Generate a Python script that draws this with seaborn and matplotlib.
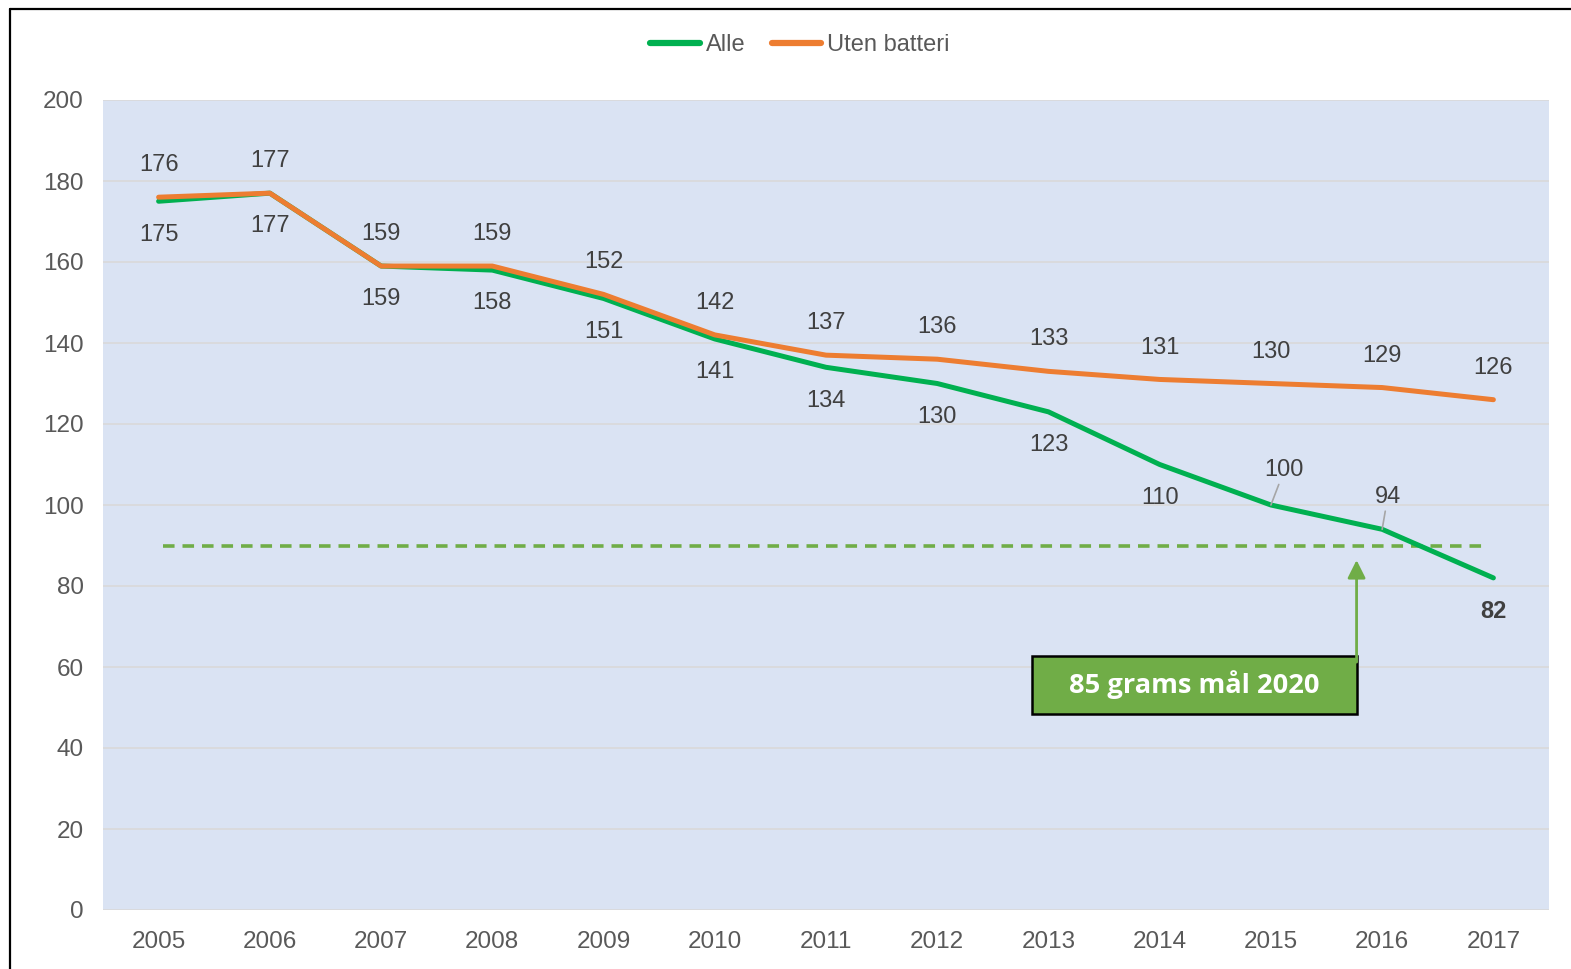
import matplotlib
matplotlib.use("Agg")
import matplotlib.pyplot as plt
import seaborn as sns
import pandas as pd
from matplotlib.lines import Line2D
from matplotlib.patches import Rectangle

years = ["2005", "2006", "2007", "2008", "2009", "2010", "2011", "2012",
         "2013", "2014", "2015", "2016", "2017"]
alle = [175, 177, 159, 158, 151, 141, 134, 130, 123, 110, 100, 94, 82]
uten = [176, 177, 159, 159, 152, 142, 137, 136, 133, 131, 130, 129, 126]
target = 90
series_names = ["Alle", "Uten batteri"]
goal_text = "85 grams mål 2020"
y_ticks = [0, 20, 40, 60, 80, 100, 120, 140, 160, 180, 200]

GREEN = "#00B050"
ORANGE = "#ED7D31"
DASH = "#70AD47"
BG = "#DAE3F3"
TXT = "#404040"
TICK = "#595959"

sns.set_theme(style="white")
plt.rcParams["font.family"] = ["Liberation Sans", "DejaVu Sans"]

df = pd.DataFrame({
    "year": years * 2,
    "value": alle + uten,
    "series": [series_names[0]] * len(years) + [series_names[1]] * len(years),
})
df["x"] = list(range(len(years))) * 2

fig = plt.figure(figsize=(15.71, 9.69), dpi=100)
ax = fig.add_axes([103 / 1571, 59 / 969, 1446 / 1571, 810 / 969])
ax.set_facecolor(BG)

sns.lineplot(data=df, x="x", y="value", hue="series",
             palette={series_names[0]: GREEN, series_names[1]: ORANGE},
             linewidth=3.6, ax=ax, legend=False, sort=False)
for ln in ax.get_lines():
    ln.set_solid_capstyle("round")
    ln.set_solid_joinstyle("round")

ax.set_xlim(-0.5, len(years) - 0.5)
ax.set_ylim(0, 200)
ax.set_xticks(range(len(years)))
ax.set_xticklabels(years)
ax.set_yticks(y_ticks)
ax.tick_params(axis="both", length=0, labelsize=17.5, labelcolor=TICK)
ax.tick_params(axis="y", pad=14)
ax.tick_params(axis="x", pad=15)
ax.set_xlabel("")
ax.set_ylabel("")
ax.yaxis.grid(True, color="#D9D9D9", linewidth=1.2)
ax.set_axisbelow(True)
for s in ax.spines.values():
    s.set_visible(False)

# target dashed line
ax.plot([0.04, len(years) - 1 - 0.06], [target, target], color=DASH,
        linestyle=(0, (3.2, 2.2)), linewidth=2.6, zorder=1.5)

FS = 17
# data labels
n = len(years)
for i in range(n):
    ax.annotate(str(uten[i]), (i, uten[i]), xytext=(0, 23), textcoords="offset points",
                ha="center", va="center", fontsize=FS, color=TXT)
for i in range(n - 3):
    ax.annotate(str(alle[i]), (i, alle[i]), xytext=(0, -24), textcoords="offset points",
                ha="center", va="center", fontsize=FS, color=TXT)
# leader-line labels for 2015 and 2016
ax.annotate(str(alle[n - 3]), (n - 3, alle[n - 3]), xytext=(n - 3 + 0.12, 108.6),
            textcoords="data", ha="center", va="center", fontsize=FS, color=TXT,
            arrowprops=dict(arrowstyle="-", color="#A6A6A6", lw=1.2,
                            shrinkA=0, shrinkB=0))
ax.annotate(str(alle[n - 2]), (n - 2, alle[n - 2]), xytext=(n - 2 + 0.05, 102.0),
            textcoords="data", ha="center", va="center", fontsize=FS, color=TXT,
            arrowprops=dict(arrowstyle="-", color="#A6A6A6", lw=1.2,
                            shrinkA=0, shrinkB=0))
ax.annotate(str(alle[n - 1]), (n - 1, alle[n - 1]), xytext=(0, -24), textcoords="offset points",
            ha="center", va="center", fontsize=FS, color=TXT, fontweight="bold")

# goal box and arrow
bx0, bx1 = 7.85, 10.77
by0, by1 = 48.4, 62.7
ax.add_patch(Rectangle((bx0, by0), bx1 - bx0, by1 - by0, facecolor=DASH,
                       edgecolor="black", linewidth=1.8, zorder=4))
ax.text((bx0 + bx1) / 2, (by0 + by1) / 2, goal_text, ha="center", va="center",
        color="white", fontsize=19.6, fontweight="bold", family="Open Sans", zorder=5)
ax.annotate("", xy=(bx1, 86.4), xytext=(bx1, by1 - 1.5),
            arrowprops=dict(arrowstyle="-|>,head_length=0.9,head_width=0.45",
                            color=DASH, lw=2, shrinkA=0, shrinkB=0), zorder=6)

# legend
handles = [Line2D([], [], color=GREEN, lw=4.5, solid_capstyle="round"),
           Line2D([], [], color=ORANGE, lw=4.5, solid_capstyle="round")]
leg = fig.legend(handles, series_names, loc="center", ncol=2,
                 bbox_to_anchor=(800 / 1571, 1 - 45 / 969), frameon=False,
                 fontsize=17, handlelength=2.1, handletextpad=0.25, columnspacing=1.1)
for t in leg.get_texts():
    t.set_color(TICK)

# outer border (left and top)
fig.add_artist(Line2D([10 / 1571, 10 / 1571], [0, 1 - 9 / 969], transform=fig.transFigure,
                      color="black", lw=1.6))
fig.add_artist(Line2D([10 / 1571, 1], [1 - 9 / 969, 1 - 9 / 969], transform=fig.transFigure,
                      color="black", lw=1.6))

fig.savefig("out.png", dpi=100, facecolor="white")
